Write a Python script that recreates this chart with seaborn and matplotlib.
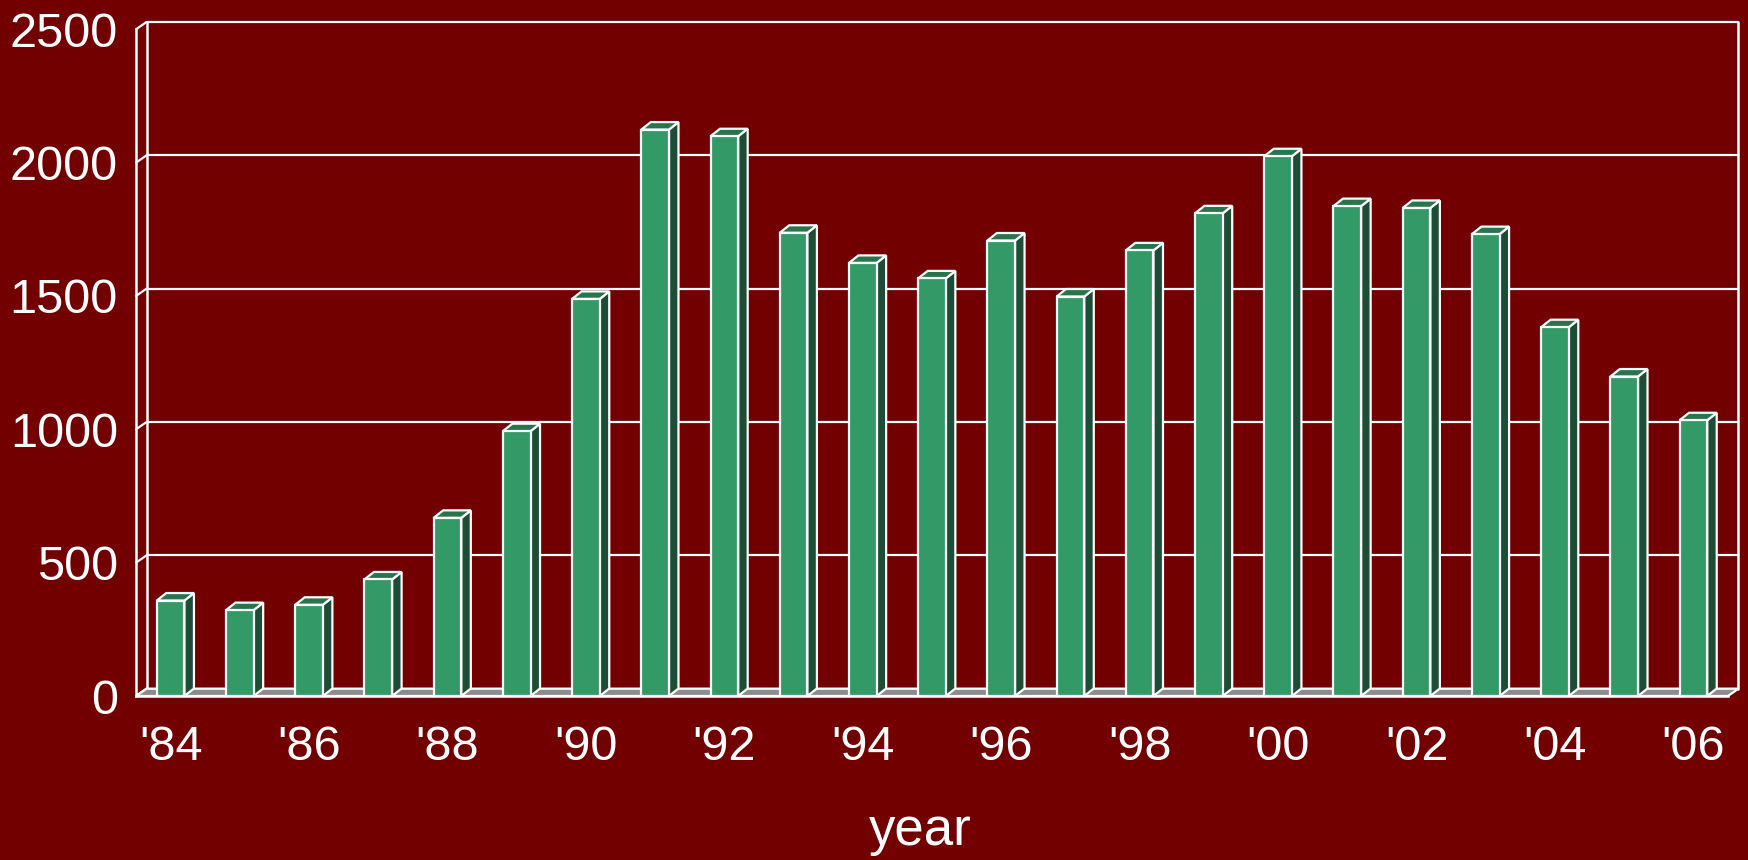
import numpy as np
import pandas as pd
import matplotlib
matplotlib.use('Agg')
import matplotlib.pyplot as plt
from matplotlib.patches import Polygon
import seaborn as sns

# data
years = ["'84", "'85", "'86", "'87", "'88", "'89", "'90", "'91", "'92", "'93", "'94", "'95",
         "'96", "'97", "'98", "'99", "'00", "'01", "'02", "'03", "'04", "'05", "'06"]
counts = [358, 322, 342, 437, 668, 993, 1489, 2124, 2099, 1737, 1624, 1566,
          1708, 1498, 1671, 1810, 2024, 1837, 1830, 1732, 1383, 1198, 1034]
yticks = [0, 500, 1000, 1500, 2000, 2500]

BG = '#720000'
FRONT = '#339966'
SIDE = '#1d4d35'
TOP = '#27744d'
FLOOR = '#8c8c8c'
W = 'white'

sns.set_style("white")
plt.rcParams['font.family'] = ['Liberation Sans', 'DejaVu Sans']

fig = plt.figure(figsize=(17.48, 8.6), dpi=100, facecolor=BG)
ax = fig.add_axes([136/1748, 1-696/860, (1728-136)/1748, (696-29.3)/860])
ax.set_facecolor('none')

df = pd.DataFrame({'year': years, 'count': counts})
sns.barplot(data=df, x='year', y='count', ax=ax, color=FRONT, saturation=1,
            width=0.4, edgecolor=W, linewidth=1.6, zorder=5)

n = len(years)
ax.set_xlim(-0.5, n-0.5)
ax.set_ylim(0, 2500)

# pixel depth -> data units
p0 = ax.transData.transform((0, 0))
p1 = ax.transData.transform((1, 2500))
pxx = p1[0]-p0[0]
pxy = (p1[1]-p0[1])/2500
wdx, wdy = 10.5/pxx, 7.3/pxy   # back wall offset
bdx, bdy = 9.5/pxx, 7.5/pxy    # bar depth

x0, x1 = -0.5, n-0.5
# back wall + gridlines
for v in yticks:
    ax.plot([x0+wdx, x1+wdx], [v+wdy, v+wdy], color=W, lw=1.6, zorder=1, clip_on=False)
    ax.plot([x0, x0+wdx], [v, v+wdy], color=W, lw=1.6, zorder=1, clip_on=False)
ax.plot([x0+wdx, x0+wdx], [wdy, 2500+wdy], color=W, lw=1.8, zorder=1, clip_on=False)
ax.plot([x1+wdx, x1+wdx], [wdy, 2500+wdy], color=W, lw=1.8, zorder=1, clip_on=False)

# floor
ax.add_patch(Polygon([(x0, 0), (x1, 0), (x1+wdx, wdy), (x0+wdx, wdy)], closed=True,
                     facecolor=FLOOR, edgecolor=W, lw=1.6, zorder=2, clip_on=False))

# 3d faces of the bars
for p in ax.patches[:]:
    if not hasattr(p, 'get_width'):
        continue
    bx, bw, bh = p.get_x(), p.get_width(), p.get_height()
    side = [(bx+bw, 0), (bx+bw+bdx, bdy), (bx+bw+bdx, bh+bdy), (bx+bw, bh)]
    top = [(bx, bh), (bx+bw, bh), (bx+bw+bdx, bh+bdy), (bx+bdx, bh+bdy)]
    ax.add_patch(Polygon(side, closed=True, facecolor=SIDE, edgecolor=W, lw=1.6, zorder=4, clip_on=False))
    ax.add_patch(Polygon(top, closed=True, facecolor=TOP, edgecolor=W, lw=1.6, zorder=4, clip_on=False))

# axes lines
for s in ['top', 'right']:
    ax.spines[s].set_visible(False)
for s in ['left', 'bottom']:
    ax.spines[s].set_color(W)
    ax.spines[s].set_linewidth(1.8)
    ax.spines[s].set_zorder(6)

ax.set_yticks(yticks)
ax.set_yticklabels([str(v) for v in yticks])
ax.tick_params(axis='y', colors=W, length=8, width=1.6, labelsize=35, pad=5, direction='out')

ax.set_xticks(np.arange(-0.5, n, 1.0))
ax.set_xticklabels([])
ax.tick_params(axis='x', which='major', colors=W, length=8, width=1.6, direction='out')
ax.set_xticks(np.arange(0, n, 2), minor=True)
ax.set_xticklabels(years[::2], minor=True)
ax.tick_params(axis='x', which='minor', colors=W, length=0, labelsize=35, pad=21)

ax.set_xlabel('year', color=W, fontsize=38)
ax.xaxis.set_label_coords(0.4925, -0.165)
ax.set_ylabel('')

fig.savefig('out.png', dpi=100, facecolor=BG)
